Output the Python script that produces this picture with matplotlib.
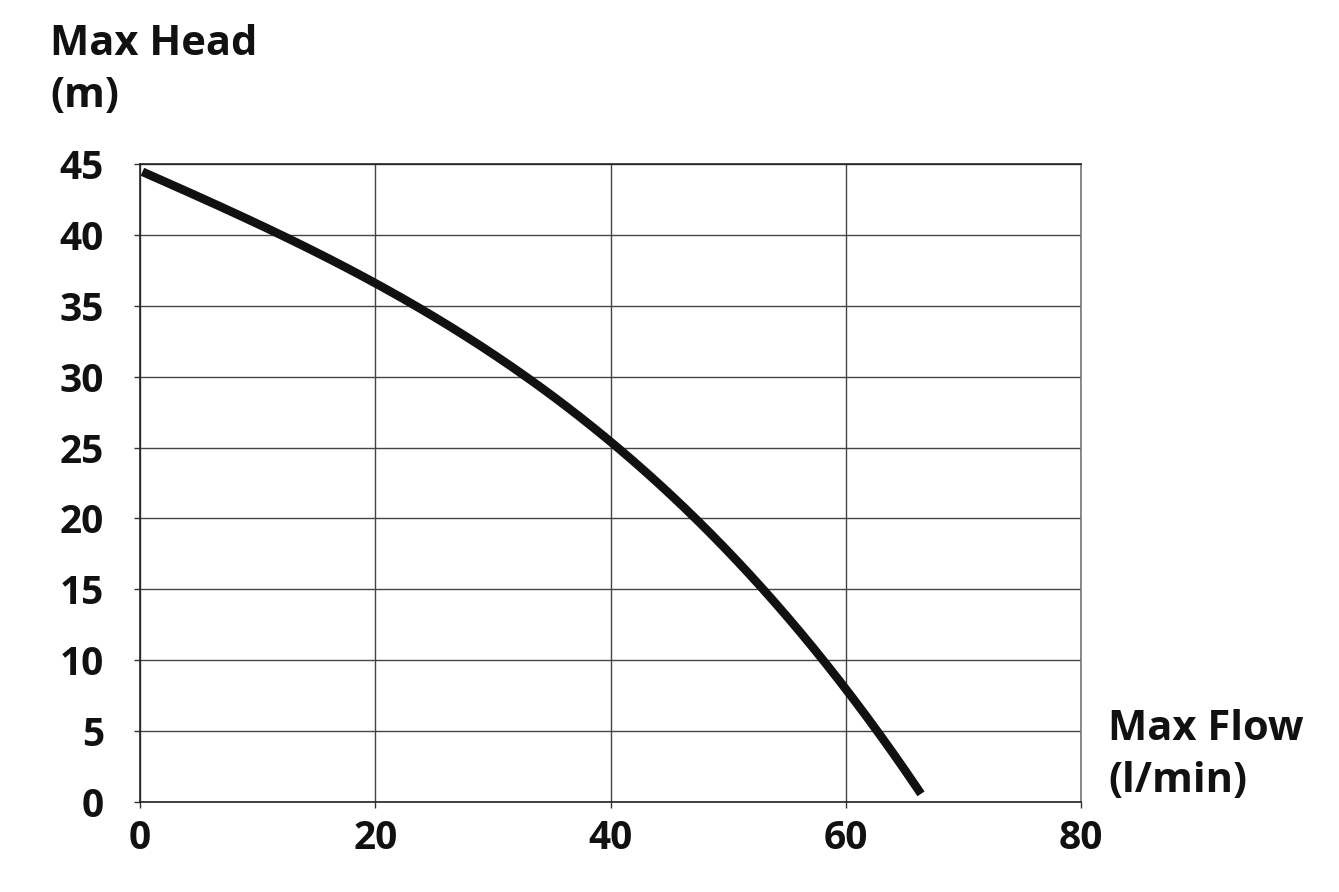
import matplotlib.pyplot as plt
import numpy as np

# pump curve
flow = [0.2, 6.0, 12.5, 23.5, 32.5, 40.2, 47.3, 53.1, 58.3, 62.8, 66.4]
head = [44.3, 42.4, 40.0, 35.0, 30.0, 25.0, 20.0, 15.0, 10.0, 5.0, 0.3]

x_ticks = [0, 20, 40, 60, 80]
y_ticks = [0, 5, 10, 15, 20, 25, 30, 35, 40, 45]

plt.rcParams['font.family'] = ['Open Sans', 'DejaVu Sans']
ink = '#111111'

fig = plt.figure(figsize=(13.39, 8.92), dpi=100)
ax = fig.add_axes([0.1046, 0.1009, 0.7027, 0.7152])

# the reference curve is smooth, so draw a smooth cubic through the read points
coef = np.polyfit(flow, head, 3)
xs = np.linspace(flow[0], flow[-1], 300)
ax.plot(xs, np.polyval(coef, xs), color=ink, linewidth=6.2, solid_capstyle='butt')

ax.set_xlim(0, 80)
ax.set_ylim(0, 45)
ax.set_xticks(x_ticks)
ax.set_yticks(y_ticks)
ax.set_xticklabels([str(v) for v in x_ticks], fontsize=28, fontweight='bold', color=ink)
ax.set_yticklabels([str(v) for v in y_ticks], fontsize=28, fontweight='bold', color=ink)
ax.tick_params(axis='x', length=4, width=1, pad=8, colors='#333333', labelcolor=ink)
ax.tick_params(axis='y', length=4, width=1, pad=22, colors='#333333', labelcolor=ink)

ax.grid(True, color='#444444', linewidth=1)
ax.set_axisbelow(True)
for side in ['left', 'bottom', 'top']:
    ax.spines[side].set_color('#222222')
    ax.spines[side].set_linewidth(1.2)
ax.spines['right'].set_color('#777777')
ax.spines['right'].set_linewidth(1.2)

fig.text(50 / 1339, 1 - 55 / 892, 'Max Head', fontsize=30, fontweight='bold', color=ink,
         ha='left', va='baseline')
fig.text(50 / 1339, 1 - 107 / 892, '(m)', fontsize=30, fontweight='bold', color=ink,
         ha='left', va='baseline')
fig.text(1108 / 1339, 1 - 740 / 892, 'Max Flow', fontsize=30, fontweight='bold', color=ink,
         ha='left', va='baseline')
fig.text(1108 / 1339, 1 - 792 / 892, '(l/min)', fontsize=30, fontweight='bold', color=ink,
         ha='left', va='baseline')

fig.savefig('out.png', dpi=100, facecolor='white')
